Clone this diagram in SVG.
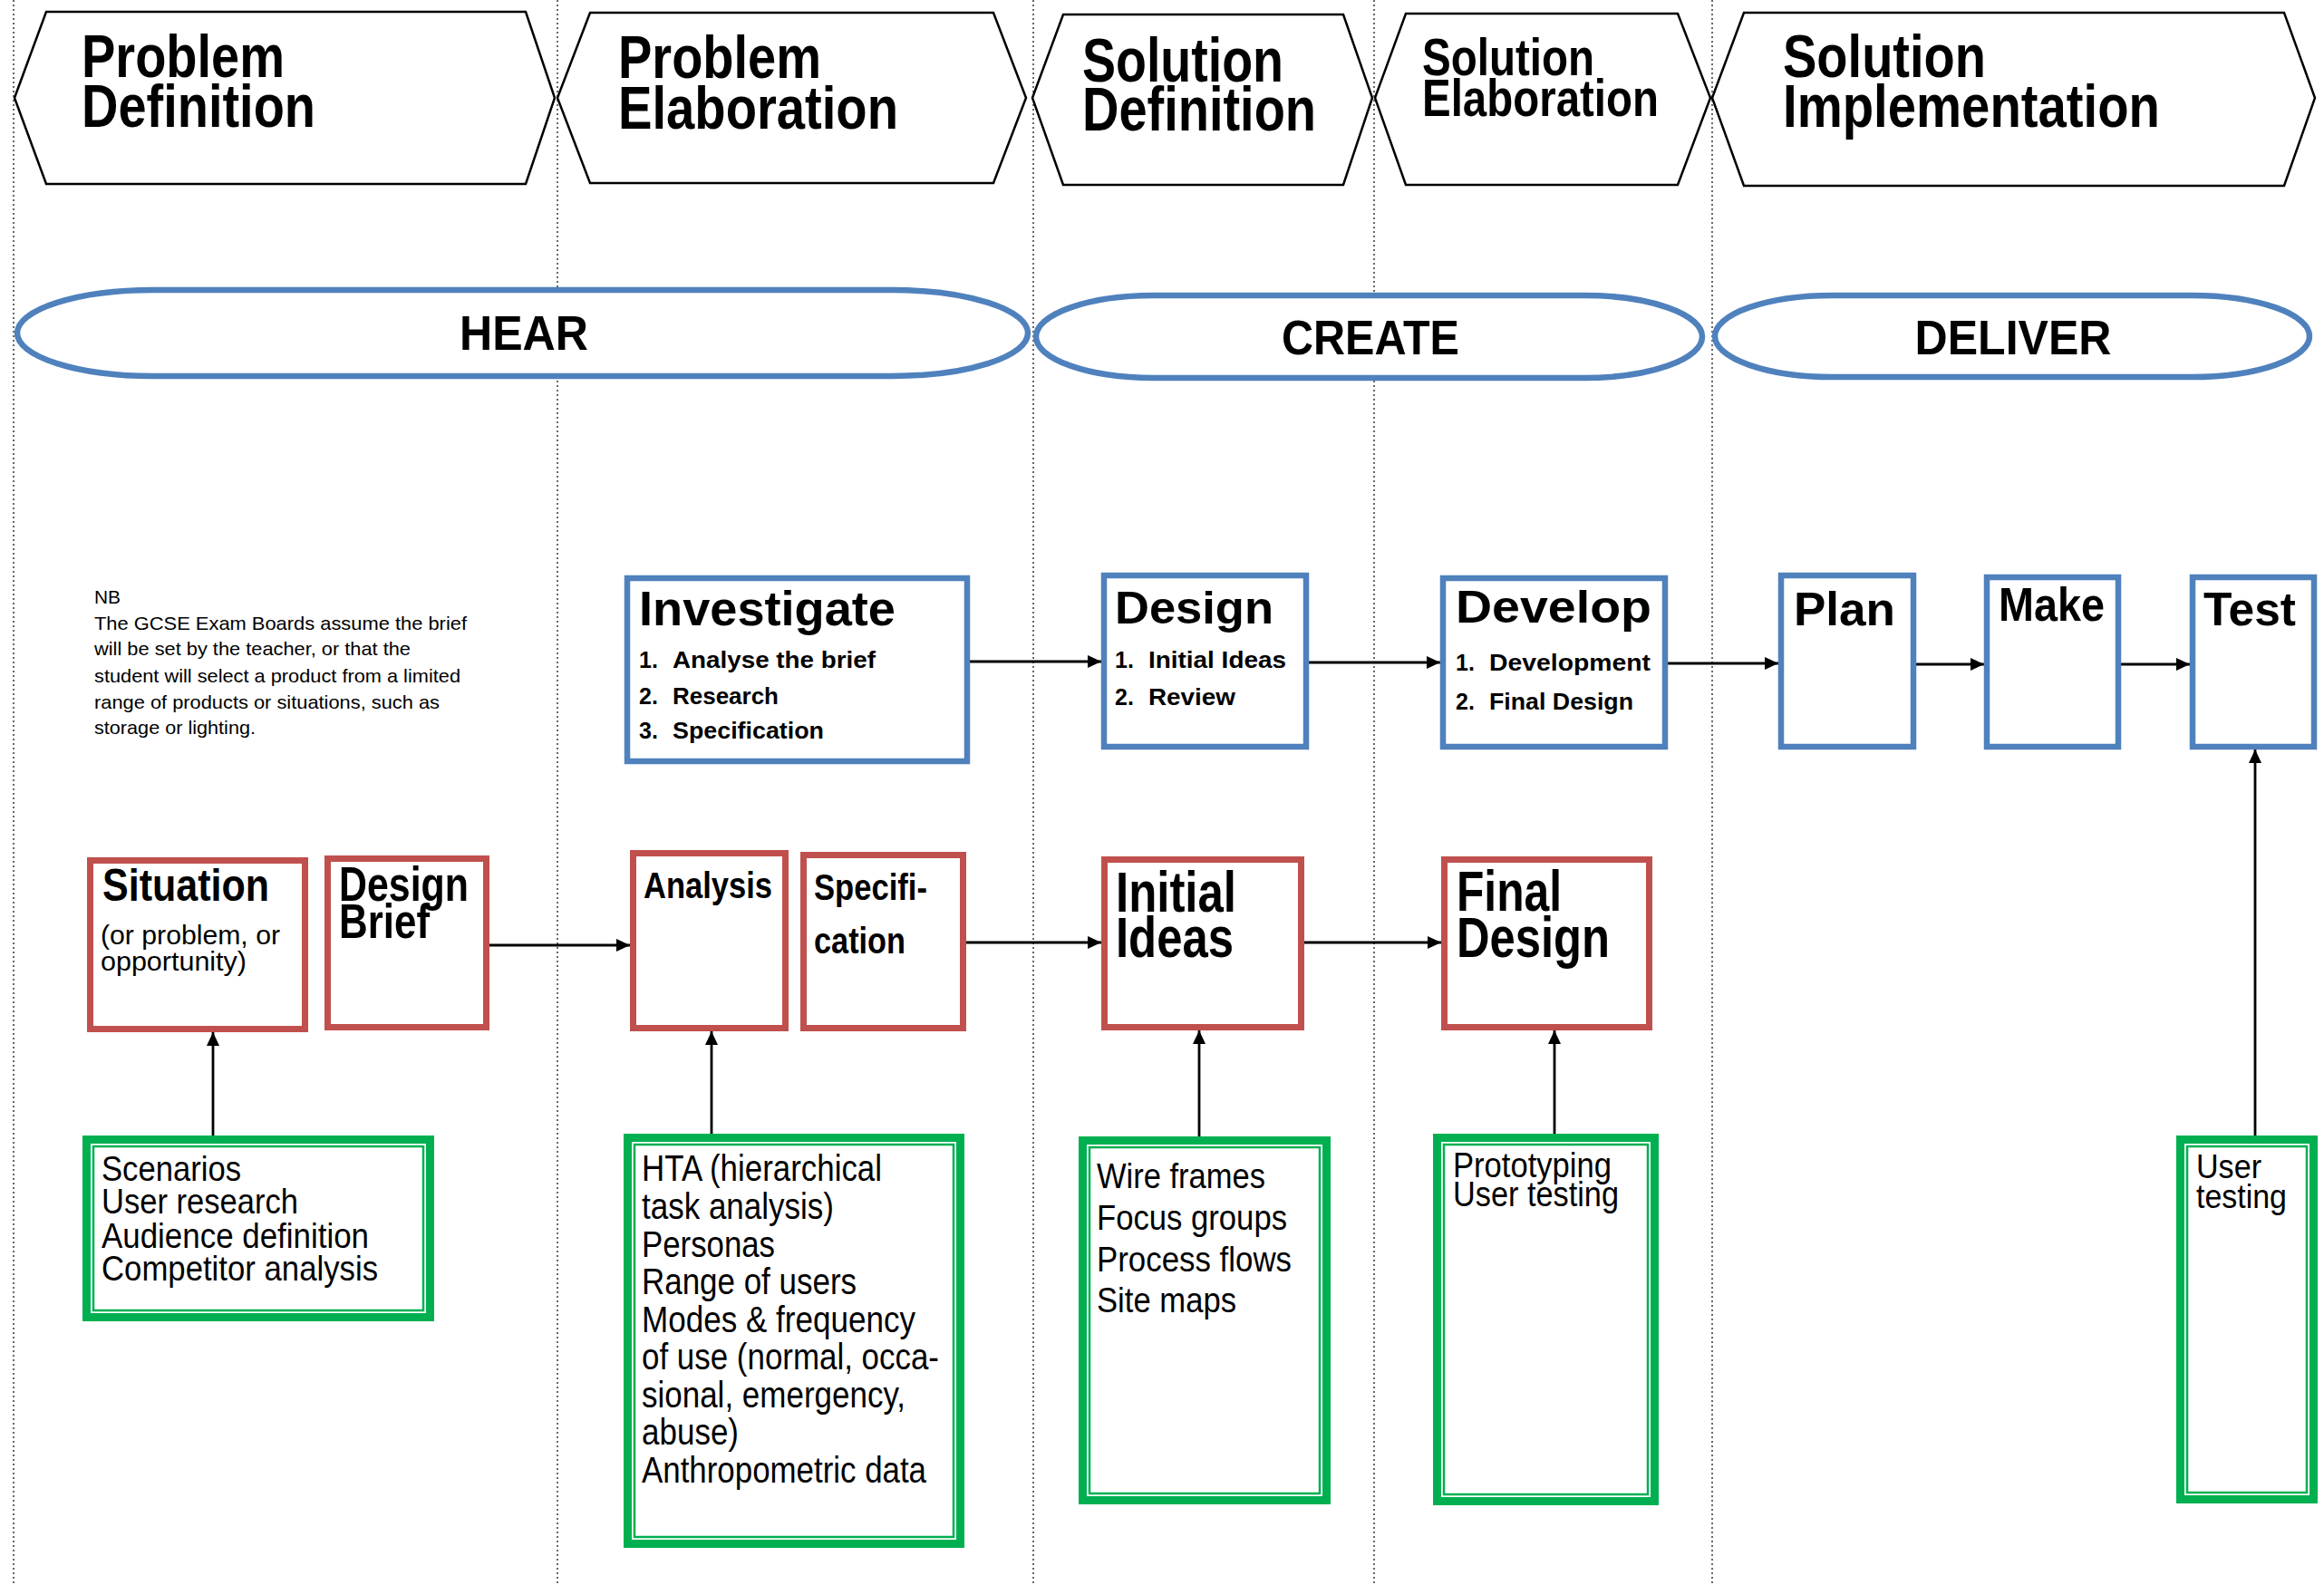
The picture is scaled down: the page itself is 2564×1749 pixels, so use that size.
<svg xmlns="http://www.w3.org/2000/svg" width="2564" height="1749" viewBox="0 0 2564 1749">
<style>
  .bg{fill:#ffffff}
  .sep{stroke:#444;stroke-width:1.6;stroke-dasharray:2 3;fill:none}
  .hex{fill:#fff;stroke:#000;stroke-width:2.5;stroke-linejoin:miter}
  .hexT{font-family:"Liberation Sans",Arial,sans-serif;font-weight:bold;fill:#000}
  .pill{fill:#fff;stroke:#4F81BD;stroke-width:6.5}
  .pillT{font-family:"Liberation Sans",Arial,sans-serif;font-weight:bold;font-size:54px;fill:#000;text-anchor:middle}
  .blue{fill:#fff;stroke:#4F81BD;stroke-width:6.5}
  .red{fill:#fff;stroke:#C0504D;stroke-width:7}
  .gOut{fill:#fff;stroke:#00B050;stroke-width:9}
  .gIn{fill:none;stroke:#00B050;stroke-width:2.5}
  .bt{font-family:"Liberation Sans",Arial,sans-serif;font-weight:bold;fill:#000}
  .li{font-family:"Liberation Sans",Arial,sans-serif;font-weight:bold;font-size:25px;fill:#000}
  .rt{font-family:"Liberation Sans",Arial,sans-serif;fill:#000}
  .nb{font-family:"Liberation Sans",Arial,sans-serif;font-size:21px;fill:#000}
  .conn{stroke:#000;stroke-width:2.8;fill:none;marker-end:url(#arr)}
</style>
<defs>
  <marker id="arr" markerUnits="userSpaceOnUse" markerWidth="16" markerHeight="16" refX="15" refY="7" orient="auto">
    <path d="M0,0 L15,7 L0,14 z" fill="#000"/>
  </marker>
</defs>
<rect class="bg" x="0" y="0" width="2564" height="1749"/>

<g id="separators">
  <line class="sep" x1="15" y1="0" x2="15" y2="1749"/>
  <line class="sep" x1="615" y1="0" x2="615" y2="1749"/>
  <line class="sep" x1="1140" y1="0" x2="1140" y2="1749"/>
  <line class="sep" x1="1516" y1="0" x2="1516" y2="1749"/>
  <line class="sep" x1="1889" y1="0" x2="1889" y2="1749"/>
</g>

<g id="phase-problem-definition">
  <polygon class="hex" points="16,108 51,13 580,13 612,108 580,203 51,203"/>
  <text class="hexT" font-size="67" x="90" y="85" textLength="224" lengthAdjust="spacingAndGlyphs">Problem</text>
  <text class="hexT" font-size="67" x="90" y="140" textLength="258" lengthAdjust="spacingAndGlyphs">Definition</text>
</g>
<g id="phase-problem-elaboration">
  <polygon class="hex" points="615,108 651,14 1096,14 1132,108 1096,202 651,202"/>
  <text class="hexT" font-size="67" x="682" y="86" textLength="224" lengthAdjust="spacingAndGlyphs">Problem</text>
  <text class="hexT" font-size="67" x="682" y="142" textLength="309" lengthAdjust="spacingAndGlyphs">Elaboration</text>
</g>
<g id="phase-solution-definition">
  <polygon class="hex" points="1139,108 1173,16 1482,16 1514,108 1482,204 1173,204"/>
  <text class="hexT" font-size="68" x="1194" y="90" textLength="222" lengthAdjust="spacingAndGlyphs">Solution</text>
  <text class="hexT" font-size="68" x="1194" y="144" textLength="258" lengthAdjust="spacingAndGlyphs">Definition</text>
</g>
<g id="phase-solution-elaboration">
  <polygon class="hex" points="1517,108 1551,15 1851,15 1887,108 1851,204 1551,204"/>
  <text class="hexT" font-size="57" x="1569" y="83" textLength="190" lengthAdjust="spacingAndGlyphs">Solution</text>
  <text class="hexT" font-size="57" x="1569" y="128" textLength="261" lengthAdjust="spacingAndGlyphs">Elaboration</text>
</g>
<g id="phase-solution-implementation">
  <polygon class="hex" points="1889,108 1924,14 2520,14 2554,108 2520,205 1924,205"/>
  <text class="hexT" font-size="67" x="1967" y="85" textLength="224" lengthAdjust="spacingAndGlyphs">Solution</text>
  <text class="hexT" font-size="67" x="1967" y="140" textLength="416" lengthAdjust="spacingAndGlyphs">Implementation</text>
</g>

<g id="stage-hear">
  <rect class="pill" x="19" y="320" width="1115" height="95" rx="150" ry="47.5"/>
  <text class="pillT" x="578" y="386" textLength="142" lengthAdjust="spacingAndGlyphs">HEAR</text>
</g>
<g id="stage-create">
  <rect class="pill" x="1143" y="326" width="735" height="91" rx="130" ry="45.5"/>
  <text class="pillT" x="1512" y="391" textLength="196" lengthAdjust="spacingAndGlyphs">CREATE</text>
</g>
<g id="stage-deliver">
  <rect class="pill" x="1892" y="326" width="656" height="90" rx="130" ry="45"/>
  <text class="pillT" x="2221" y="391" textLength="217" lengthAdjust="spacingAndGlyphs">DELIVER</text>
</g>

<g id="note-nb">
  <text class="nb" x="104" y="666" textLength="29" lengthAdjust="spacingAndGlyphs">NB</text>
  <text class="nb" x="104" y="695" textLength="411" lengthAdjust="spacingAndGlyphs">The GCSE Exam Boards assume the brief</text>
  <text class="nb" x="104" y="723" textLength="349" lengthAdjust="spacingAndGlyphs">will be set by the teacher, or that the</text>
  <text class="nb" x="104" y="753" textLength="404" lengthAdjust="spacingAndGlyphs">student will select a product from a limited</text>
  <text class="nb" x="104" y="782" textLength="381" lengthAdjust="spacingAndGlyphs">range of products or situations, such as</text>
  <text class="nb" x="104" y="810" textLength="178" lengthAdjust="spacingAndGlyphs">storage or lighting.</text>
</g>

<g id="connectors">
  <path class="conn" d="M1070,730 H1215"/>
  <path class="conn" d="M1444,731 H1589"/>
  <path class="conn" d="M1840,732 H1962"/>
  <path class="conn" d="M2114,733 H2189"/>
  <path class="conn" d="M2340,733 H2416"/>
  <path class="conn" d="M540,1043 H695"/>
  <path class="conn" d="M1066,1040 H1215"/>
  <path class="conn" d="M1439,1040 H1590"/>
  <path class="conn" d="M235,1253 V1139"/>
  <path class="conn" d="M785,1251 V1138"/>
  <path class="conn" d="M1323,1254 V1137"/>
  <path class="conn" d="M1715,1251 V1137"/>
  <path class="conn" d="M2488,1253 V827"/>
</g>

<g id="node-investigate">
  <rect class="blue" x="692" y="638" width="375" height="202"/>
  <text class="bt" font-size="53" x="705" y="690" textLength="283" lengthAdjust="spacingAndGlyphs">Investigate</text>
  <text class="li" x="705" y="737">1.</text><text class="li" x="742" y="737" textLength="224" lengthAdjust="spacingAndGlyphs">Analyse the brief</text>
  <text class="li" x="705" y="777">2.</text><text class="li" x="742" y="777" textLength="117" lengthAdjust="spacingAndGlyphs">Research</text>
  <text class="li" x="705" y="815">3.</text><text class="li" x="742" y="815" textLength="167" lengthAdjust="spacingAndGlyphs">Specification</text>
</g>
<g id="node-design">
  <rect class="blue" x="1218" y="635" width="223" height="189"/>
  <text class="bt" font-size="50" x="1230" y="688" textLength="175" lengthAdjust="spacingAndGlyphs">Design</text>
  <text class="li" x="1230" y="737">1.</text><text class="li" x="1267" y="737" textLength="152" lengthAdjust="spacingAndGlyphs">Initial Ideas</text>
  <text class="li" x="1230" y="778">2.</text><text class="li" x="1267" y="778" textLength="96" lengthAdjust="spacingAndGlyphs">Review</text>
</g>
<g id="node-develop">
  <rect class="blue" x="1592" y="638" width="245" height="186"/>
  <text class="bt" font-size="50" x="1606" y="687" textLength="216" lengthAdjust="spacingAndGlyphs">Develop</text>
  <text class="li" x="1606" y="740">1.</text><text class="li" x="1643" y="740" textLength="178" lengthAdjust="spacingAndGlyphs">Development</text>
  <text class="li" x="1606" y="783">2.</text><text class="li" x="1643" y="783" textLength="159" lengthAdjust="spacingAndGlyphs">Final Design</text>
</g>
<g id="node-plan">
  <rect class="blue" x="1965" y="635" width="146" height="189"/>
  <text class="bt" font-size="52" x="1979" y="690" textLength="112" lengthAdjust="spacingAndGlyphs">Plan</text>
</g>
<g id="node-make">
  <rect class="blue" x="2192" y="637" width="145" height="187"/>
  <text class="bt" font-size="52" x="2205" y="685" textLength="117" lengthAdjust="spacingAndGlyphs">Make</text>
</g>
<g id="node-test">
  <rect class="blue" x="2419" y="637" width="134" height="187"/>
  <text class="bt" font-size="52" x="2431" y="690" textLength="102" lengthAdjust="spacingAndGlyphs">Test</text>
</g>

<g id="node-situation">
  <rect class="red" x="99.5" y="949.5" width="237" height="186"/>
  <text class="bt" font-size="50" x="113" y="994" textLength="184" lengthAdjust="spacingAndGlyphs">Situation</text>
  <text class="rt" font-size="30" x="111" y="1042" textLength="198" lengthAdjust="spacingAndGlyphs">(or problem, or</text>
  <text class="rt" font-size="30" x="111" y="1071" textLength="161" lengthAdjust="spacingAndGlyphs">opportunity)</text>
</g>
<g id="node-design-brief">
  <rect class="red" x="361.5" y="947.5" width="175" height="186"/>
  <text class="bt" font-size="54" x="374" y="994" textLength="143" lengthAdjust="spacingAndGlyphs">Design</text>
  <text class="bt" font-size="54" x="374" y="1035" textLength="100" lengthAdjust="spacingAndGlyphs">Brief</text>
</g>
<g id="node-analysis">
  <rect class="red" x="698.5" y="941.5" width="168" height="193"/>
  <text class="bt" font-size="40" x="710" y="991" textLength="142" lengthAdjust="spacingAndGlyphs">Analysis</text>
</g>
<g id="node-specification">
  <rect class="red" x="886.5" y="943.5" width="176" height="191"/>
  <text class="bt" font-size="40" x="898" y="993" textLength="125" lengthAdjust="spacingAndGlyphs">Specifi-</text>
  <text class="bt" font-size="40" x="898" y="1052" textLength="101" lengthAdjust="spacingAndGlyphs">cation</text>
</g>
<g id="node-initial-ideas">
  <rect class="red" x="1218.5" y="948.5" width="217" height="185"/>
  <text class="bt" font-size="63" x="1231" y="1006" textLength="133" lengthAdjust="spacingAndGlyphs">Initial</text>
  <text class="bt" font-size="63" x="1231" y="1056" textLength="130" lengthAdjust="spacingAndGlyphs">Ideas</text>
</g>
<g id="node-final-design">
  <rect class="red" x="1593.5" y="948.5" width="226" height="185"/>
  <text class="bt" font-size="63" x="1607" y="1005" textLength="116" lengthAdjust="spacingAndGlyphs">Final</text>
  <text class="bt" font-size="63" x="1607" y="1056" textLength="169" lengthAdjust="spacingAndGlyphs">Design</text>
</g>

<g id="node-methods-hear">
  <rect class="gOut" x="95.5" y="1257.5" width="379" height="196"/>
  <rect class="gIn" x="103" y="1265" width="364" height="181"/>
  <text class="rt" font-size="39" x="112" y="1303" textLength="154" lengthAdjust="spacingAndGlyphs">Scenarios</text>
  <text class="rt" font-size="39" x="112" y="1339" textLength="217" lengthAdjust="spacingAndGlyphs">User research</text>
  <text class="rt" font-size="39" x="112" y="1377" textLength="295" lengthAdjust="spacingAndGlyphs">Audience definition</text>
  <text class="rt" font-size="39" x="112" y="1413" textLength="305" lengthAdjust="spacingAndGlyphs">Competitor analysis</text>
</g>
<g id="node-methods-analysis">
  <rect class="gOut" x="692.5" y="1255.5" width="367" height="448"/>
  <rect class="gIn" x="700" y="1263" width="352" height="433"/>
  <text class="rt" font-size="40" x="708" y="1303" textLength="265" lengthAdjust="spacingAndGlyphs">HTA (hierarchical</text>
  <text class="rt" font-size="40" x="708" y="1345" textLength="212" lengthAdjust="spacingAndGlyphs">task analysis)</text>
  <text class="rt" font-size="40" x="708" y="1387" textLength="147" lengthAdjust="spacingAndGlyphs">Personas</text>
  <text class="rt" font-size="40" x="708" y="1428" textLength="237" lengthAdjust="spacingAndGlyphs">Range of users</text>
  <text class="rt" font-size="40" x="708" y="1470" textLength="302" lengthAdjust="spacingAndGlyphs">Modes &amp; frequency</text>
  <text class="rt" font-size="40" x="708" y="1511" textLength="328" lengthAdjust="spacingAndGlyphs">of use (normal, occa-</text>
  <text class="rt" font-size="40" x="708" y="1553" textLength="291" lengthAdjust="spacingAndGlyphs">sional, emergency,</text>
  <text class="rt" font-size="40" x="708" y="1594" textLength="107" lengthAdjust="spacingAndGlyphs">abuse)</text>
  <text class="rt" font-size="40" x="708" y="1636" textLength="314" lengthAdjust="spacingAndGlyphs">Anthropometric data</text>
</g>
<g id="node-methods-create">
  <rect class="gOut" x="1194.5" y="1258.5" width="269" height="397"/>
  <rect class="gIn" x="1202" y="1266" width="254" height="382"/>
  <text class="rt" font-size="38" x="1210" y="1311" textLength="186" lengthAdjust="spacingAndGlyphs">Wire frames</text>
  <text class="rt" font-size="38" x="1210" y="1357" textLength="210" lengthAdjust="spacingAndGlyphs">Focus groups</text>
  <text class="rt" font-size="38" x="1210" y="1403" textLength="215" lengthAdjust="spacingAndGlyphs">Process flows</text>
  <text class="rt" font-size="38" x="1210" y="1448" textLength="154" lengthAdjust="spacingAndGlyphs">Site maps</text>
</g>
<g id="node-methods-develop">
  <rect class="gOut" x="1585.5" y="1255.5" width="240" height="401"/>
  <rect class="gIn" x="1593" y="1263" width="225" height="386"/>
  <text class="rt" font-size="38" x="1603" y="1299" textLength="175" lengthAdjust="spacingAndGlyphs">Prototyping</text>
  <text class="rt" font-size="38" x="1603" y="1331" textLength="183" lengthAdjust="spacingAndGlyphs">User testing</text>
</g>
<g id="node-methods-test">
  <rect class="gOut" x="2405.5" y="1257.5" width="147" height="397"/>
  <rect class="gIn" x="2413" y="1265" width="132" height="382"/>
  <text class="rt" font-size="36" x="2423" y="1300" textLength="72" lengthAdjust="spacingAndGlyphs">User</text>
  <text class="rt" font-size="36" x="2423" y="1333" textLength="100" lengthAdjust="spacingAndGlyphs">testing</text>
</g>
</svg>
